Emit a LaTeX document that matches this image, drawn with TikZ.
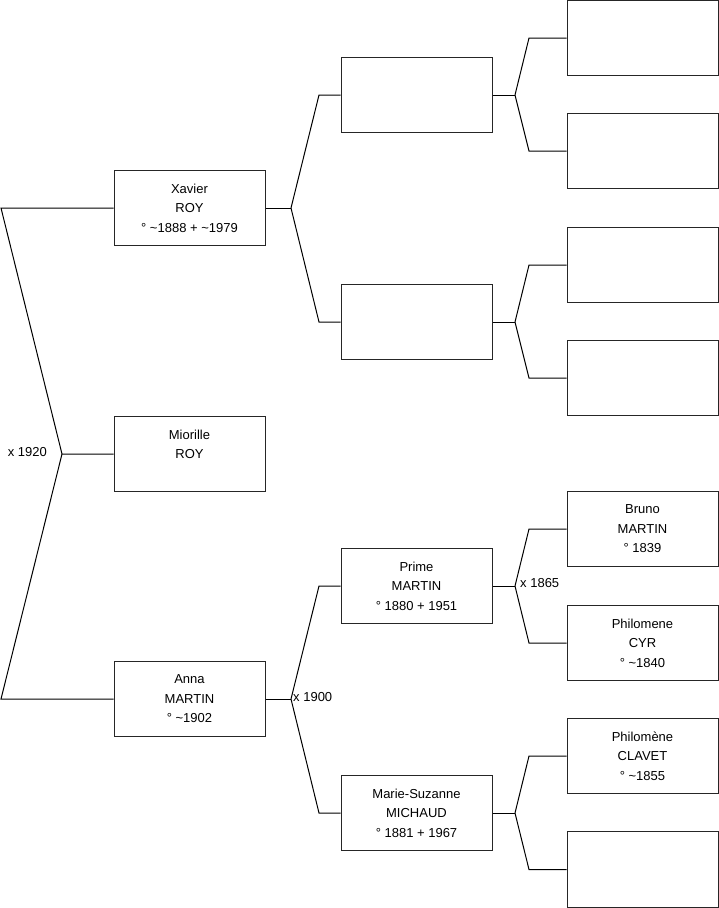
\documentclass[tikz,border=0pt]{standalone}
\usepackage{fontspec}
\setmainfont{Liberation Sans}
\begin{document}
\begin{tikzpicture}[x=1pt,y=-1pt,
  person/.style={draw=black!85, line width=1pt, minimum width=151pt, minimum height=75.5pt,
    inner sep=0pt, align=center, font=\fontsize{13}{19.5}\selectfont},
  link/.style={draw=black, line width=1pt, line join=miter},
  lbl/.style={font=\fontsize{13}{15}\selectfont, inner sep=0pt}]
\useasboundingbox (0,0) rectangle (719,908);
% generation 0
\node[person] (M) at (189.5,454) {Miorille\\ROY\\~};
% generation 1
\node[person] (X) at (189.5,208) {Xavier\\ROY\\° \textasciitilde1888 + \textasciitilde1979};
\node[person] (A) at (189.5,699) {Anna\\MARTIN\\° \textasciitilde1902};
% generation 2
\node[person] (XF) at (416.5,95) {};
\node[person] (XM) at (416.5,322) {};
\node[person] (AF) at (416.5,586) {Prime\\MARTIN\\° 1880 + 1951};
\node[person] (AM) at (416.5,813) {Marie-Suzanne\\MICHAUD\\° 1881 + 1967};
% generation 3
\node[person] (XFF) at (642.5,38) {};
\node[person] (XFM) at (642.5,151) {};
\node[person] (XMF) at (642.5,265) {};
\node[person] (XMM) at (642.5,378) {};
\node[person] (AFF) at (642.5,529) {Bruno\\MARTIN\\° 1839};
\node[person] (AFM) at (642.5,643) {Philomene\\CYR\\° \textasciitilde1840};
\node[person] (AMF) at (642.5,756) {Philomène\\CLAVET\\° \textasciitilde1855};
\node[person] (AMM) at (642.5,869.5) {};
% junctions
\coordinate (cX) at (1,208);
\coordinate (cA) at (1,699);
\coordinate (j0) at (62,454);
\coordinate (jX) at (291,208);
\coordinate (jA) at (291,699);
\coordinate (jXF) at (515,95);
\coordinate (jXM) at (515,322);
\coordinate (jAF) at (515,586);
\coordinate (jAM) at (515,813);
% gen0 links
\draw[link] (X.west) -- (cX) -- (j0) -- (M.west);
\draw[link] (A.west) -- (cA) -- (j0);
% gen1 links
\draw[link] (X.east) -- (jX);
\draw[link] (jX) -- (319,95) -- (XF.west);
\draw[link] (jX) -- (319,322) -- (XM.west);
\draw[link] (A.east) -- (jA);
\draw[link] (jA) -- (319,586) -- (AF.west);
\draw[link] (jA) -- (319,813) -- (AM.west);
% gen2 links
\draw[link] (XF.east) -- (jXF);
\draw[link] (jXF) -- (529,38) -- (XFF.west);
\draw[link] (jXF) -- (529,151) -- (XFM.west);
\draw[link] (XM.east) -- (jXM);
\draw[link] (jXM) -- (529,265) -- (XMF.west);
\draw[link] (jXM) -- (529,378) -- (XMM.west);
\draw[link] (AF.east) -- (jAF);
\draw[link] (jAF) -- (529,529) -- (AFF.west);
\draw[link] (jAF) -- (529,643) -- (AFM.west);
\draw[link] (AM.east) -- (jAM);
\draw[link] (jAM) -- (529,756) -- (AMF.west);
\draw[link] (jAM) -- (529,869.5) -- (AMM.west);
% labels
\node[lbl, anchor=east] (m0) at (47,452) {x 1920};
\node[lbl, anchor=west] (m1) at (293,697) {x 1900};
\node[lbl, anchor=west] (m2) at (520,583) {x 1865};
\end{tikzpicture}
\end{document}
